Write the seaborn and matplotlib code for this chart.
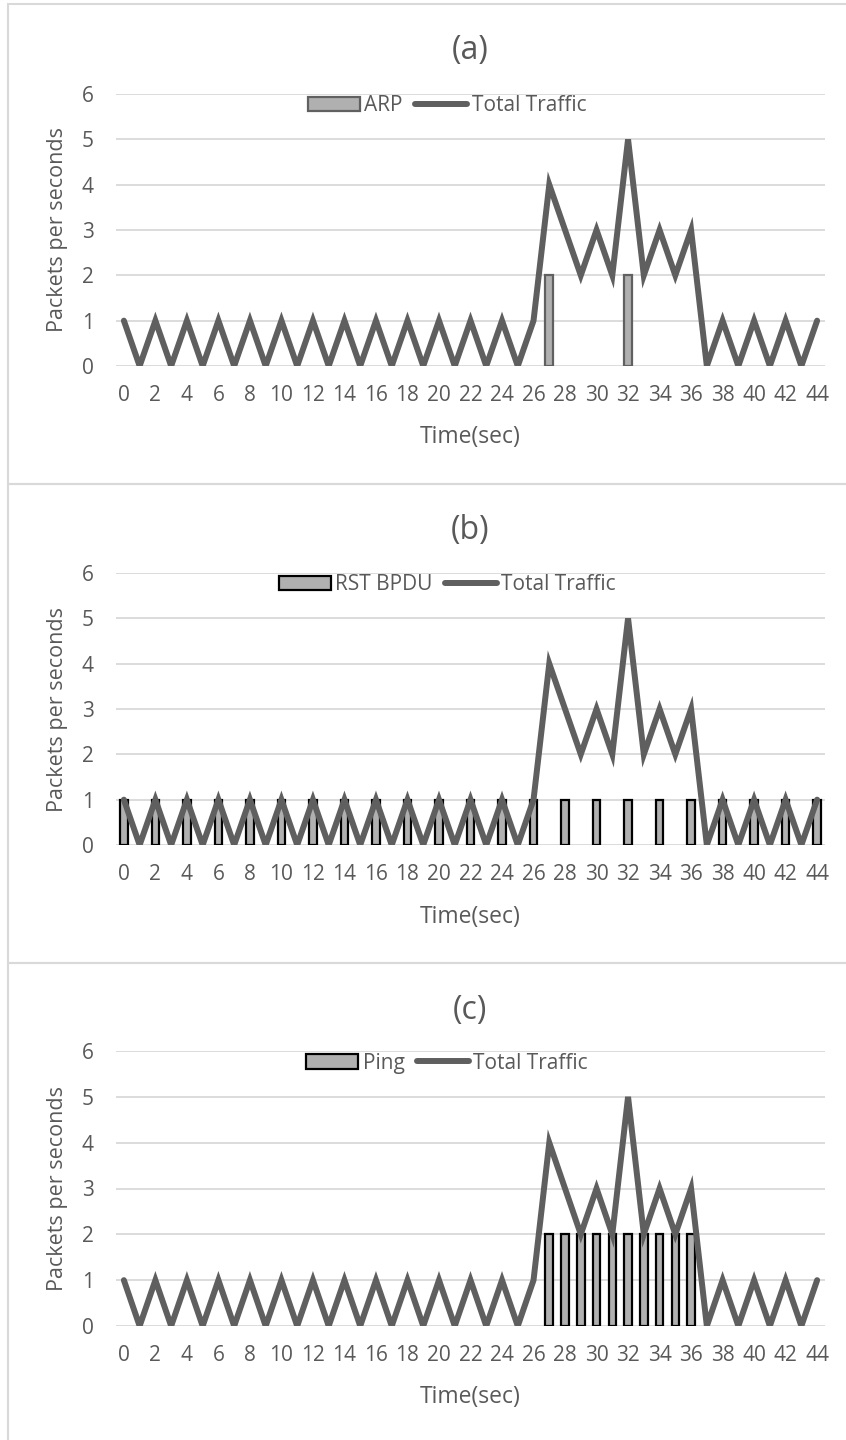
import numpy as np
import pandas as pd
import matplotlib
matplotlib.use("Agg")
import matplotlib.pyplot as plt
from matplotlib.patches import Rectangle, Patch
from matplotlib.lines import Line2D
import seaborn as sns

# ---- data ----
time_sec = list(range(45))
total_traffic = [1, 0, 1, 0, 1, 0, 1, 0, 1, 0, 1, 0, 1, 0, 1, 0, 1, 0, 1, 0,
                 1, 0, 1, 0, 1, 0, 1, 4, 3, 2, 3, 2, 5, 2, 3, 2, 3, 0, 1, 0,
                 1, 0, 1, 0, 1]
arp_time = [27, 32]
arp_vals = [2, 2]
bpdu_time = list(range(0, 45, 2))
bpdu_vals = [1] * len(bpdu_time)
ping_time = list(range(27, 37))
ping_vals = [2] * len(ping_time)
xtick_labels = [str(t) for t in range(0, 45, 2)]
panel_titles = ["(a)", "(b)", "(c)"]
bar_names = ["ARP", "RST BPDU", "Ping"]

sns.set_theme(style="white")
plt.rcParams['font.family'] = ['Open Sans', 'DejaVu Sans']

TXT = "#595959"
GRID = "#d9d9d9"
LINEC = "#5f5f5f"
BARF = "#b0b0b0"

fig = plt.figure(figsize=(8.46, 14.4), dpi=100)
H = 1440.0
W = 846.0

panels = [
    dict(top=94, bottom=366, box=(4, 484), bt=arp_time, bv=arp_vals, edge="#606060", title_y=50, xl_y=437),
    dict(top=573, bottom=845, box=(484, 963), bt=bpdu_time, bv=bpdu_vals, edge="#000000", title_y=530, xl_y=917),
    dict(top=1051, bottom=1326, box=(963, 1445), bt=ping_time, bv=ping_vals, edge="#000000", title_y=1010, xl_y=1397),
]

ax_left = 116 / W
ax_w = (825 - 116) / W

for i, p in enumerate(panels):
    # panel border
    y0, y1 = p["box"]
    fig.patches.append(Rectangle((8 / W, 1 - y1 / H), 1.0, (y1 - y0) / H,
                                 transform=fig.transFigure, fill=False,
                                 edgecolor=GRID, linewidth=1.5, zorder=0))
    ax = fig.add_axes([ax_left, 1 - p["bottom"] / H, ax_w, (p["bottom"] - p["top"]) / H])
    df_bar = pd.DataFrame({"t": p["bt"], "v": p["bv"]})
    sns.barplot(data=df_bar, x="t", y="v", order=time_sec, ax=ax, color=BARF,
                saturation=1, width=0.48, edgecolor=p["edge"], linewidth=1.6, zorder=3)
    df_line = pd.DataFrame({"t": time_sec, "v": total_traffic})
    sns.lineplot(data=df_line, x="t", y="v", ax=ax, color=LINEC, linewidth=4.3,
                 zorder=4, solid_joinstyle="miter")
    ax.set_xlim(-0.5, 44.5)
    ax.set_ylim(0, 6)
    ax.set_yticks(range(0, 7))
    ax.set_xticks(range(0, 45, 2))
    ax.set_xticklabels(xtick_labels)
    ax.yaxis.grid(True, color=GRID, linewidth=1.3, zorder=0)
    ax.set_axisbelow(True)
    for s in ax.spines.values():
        s.set_visible(False)
    ax.tick_params(axis="both", length=0, labelsize=15, colors=TXT)
    ax.tick_params(axis="y", pad=16)
    ax.tick_params(axis="x", pad=14)
    ax.set_xlabel("")
    ax.set_ylabel("Packets per seconds", fontsize=15.5, color=TXT)
    ax.yaxis.set_label_coords(-0.068, 0.5)
    fig.text(470 / W, 1 - p["title_y"] / H, panel_titles[i], ha="center", va="center",
             fontsize=23, color=TXT)
    fig.text(470 / W, 1 - p["xl_y"] / H, "Time(sec)", ha="center", va="center",
             fontsize=16.5, color=TXT)
    handles = [Patch(facecolor=BARF, edgecolor=p["edge"], linewidth=1.6),
               Line2D([0], [0], color=LINEC, linewidth=4.3)]
    ax.legend(handles, [bar_names[i], "Total Traffic"], loc="center",
              bbox_to_anchor=(0.467, 0.956), ncol=2, frameon=False, fontsize=15,
              labelcolor=TXT, handlelength=2.5, handleheight=0.7, handletextpad=0.2,
              columnspacing=0.6)

fig.savefig("out.png", dpi=100)
